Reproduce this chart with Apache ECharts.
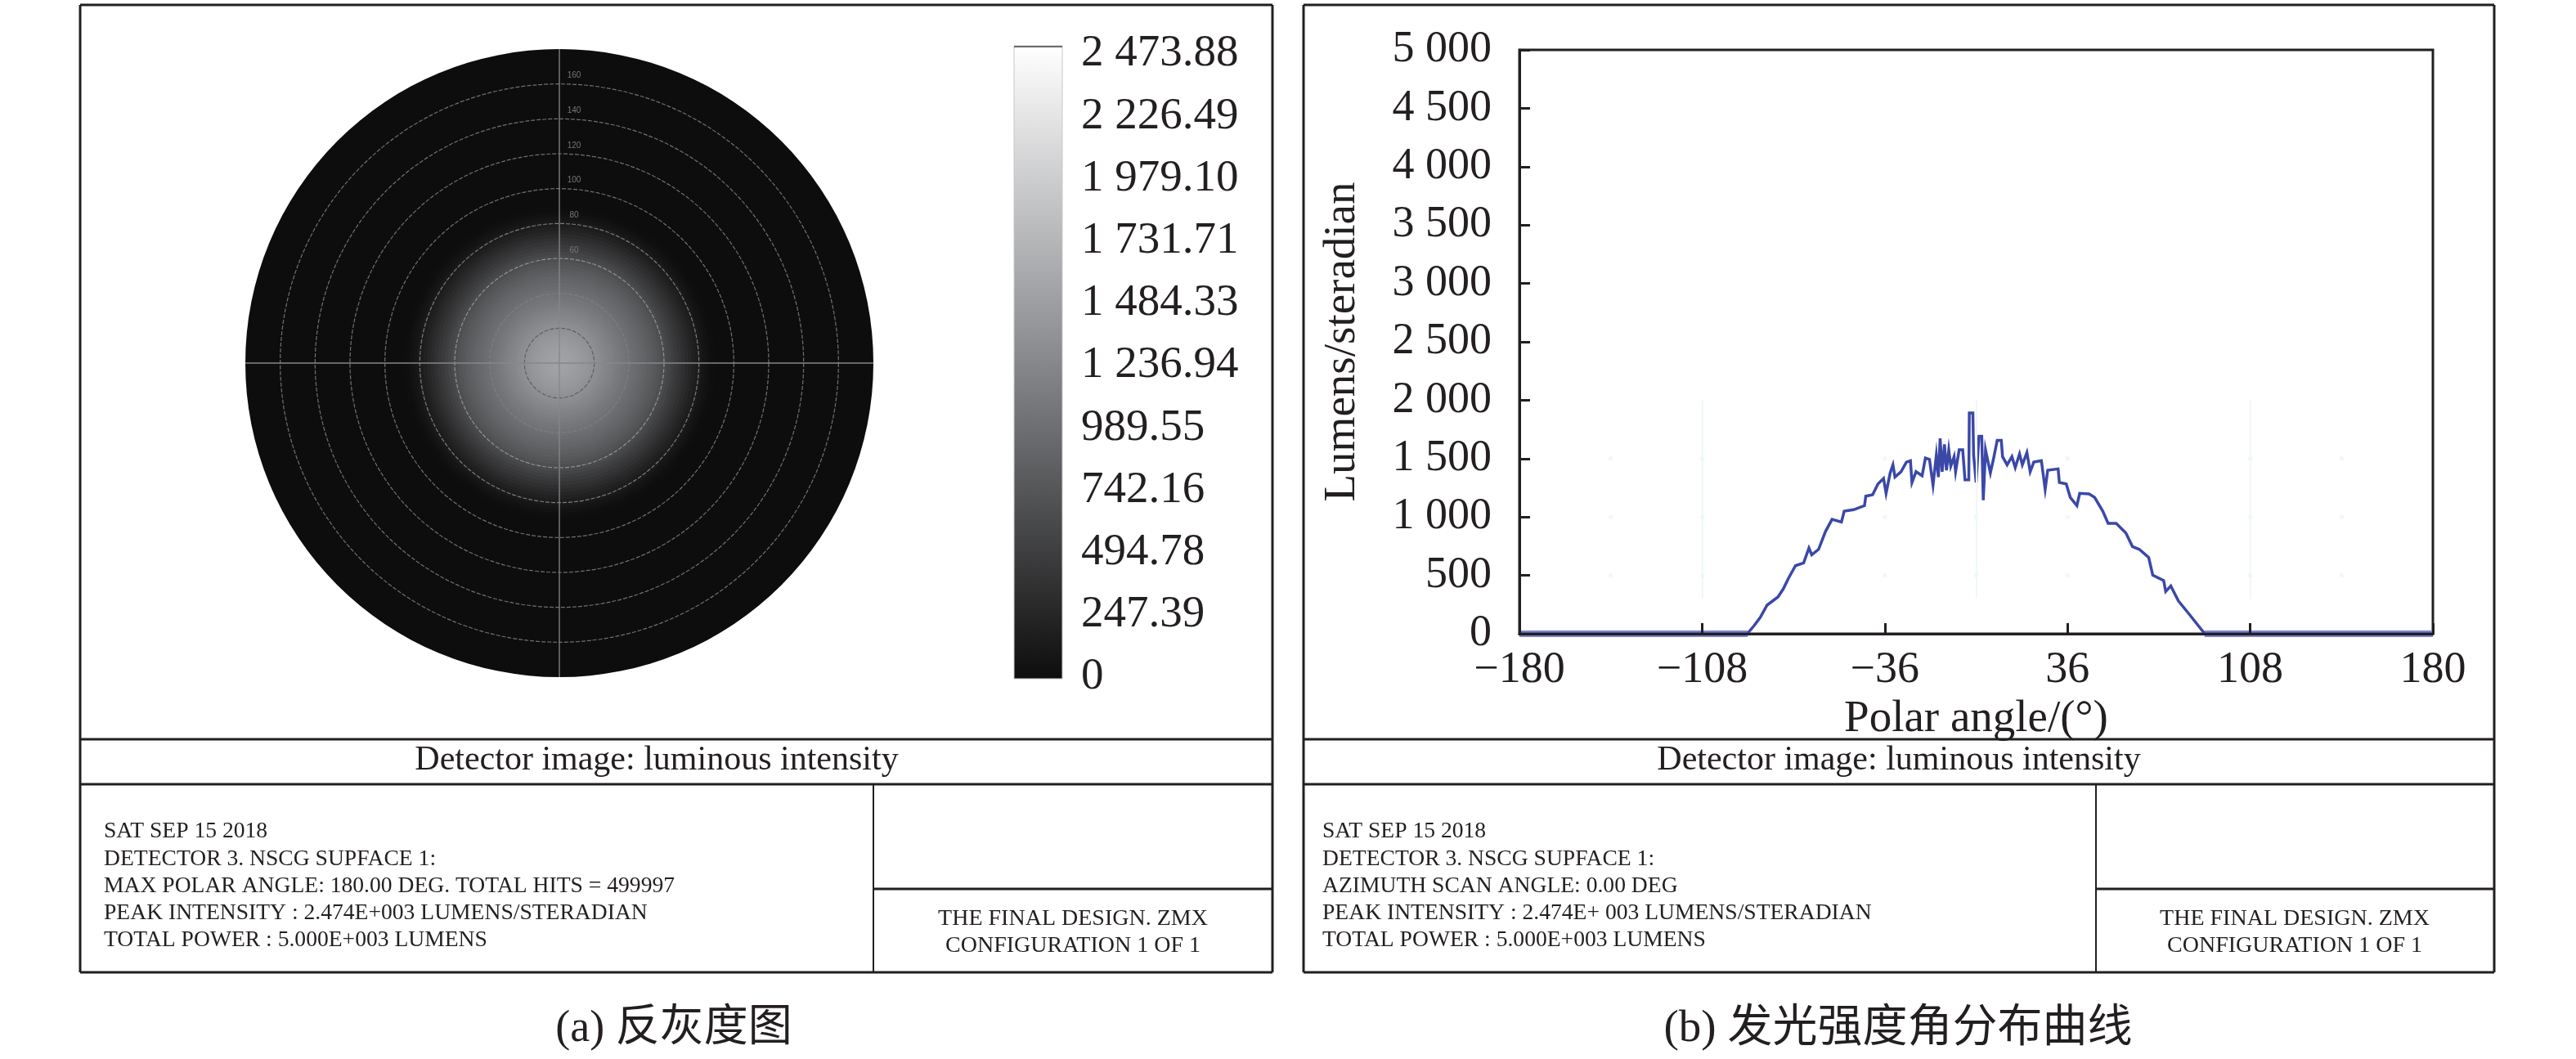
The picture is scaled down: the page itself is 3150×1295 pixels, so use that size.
<!DOCTYPE html>
<html>
<head>
<meta charset="utf-8">
<style>html,body{margin:0;padding:0;background:#fff}#c{width:3150px;height:1295px}</style>
<script src="https://cdn.jsdelivr.net/npm/echarts@6/dist/echarts.min.js"></script>
</head>
<body>
<div id="c"></div>
<script>
// ---------- data ----------
const curveAngle = [-180,-90.2,-87.5,-85.1,-82.4,-78.1,-76.0,-73.9,-71.2,-68.0,-65.9,-64.8,-62.1,-59.4,-56.8,-53.1,-52.0,-48.3,-44.0,-43.5,-40.8,-38.7,-36.5,-35.5,-33.9,-32.8,-32.0,-29.6,-27.5,-25.9,-25.3,-23.7,-21.3,-20.0,-18.4,-17.0,-15.7,-14.9,-14.2,-13.4,-12.5,-11.7,-10.8,-10.0,-8.7,-8.1,-6.7,-5.3,-4.4,-2.9,-2.7,-1.3,-1.0,0,1.1,2.2,2.8,3.7,5.6,6.9,8.3,9.9,10.4,12.2,14.1,15.4,17.1,18.2,20.0,21.3,22.7,25.7,27.2,28.2,32.3,32.8,35.5,37.1,39.7,40.8,44.5,46.7,49.9,52.0,55.2,59.0,61.6,64.3,68.0,69.6,73.9,74.7,76.7,79.7,84.2,90.1,180];
const curveValue = [0,0,70,140,245,315,385,478,583,607,735,677,723,875,980,957,1050,1062,1097,1178,1190,1283,1330,1202,1377,1447,1342,1388,1470,1482,1295,1388,1353,1505,1493,1272,1528,1342,1673,1388,1622,1400,1575,1435,1517,1388,1575,1575,1318,1318,1890,1890,1528,1295,1692,1692,1143,1575,1377,1505,1657,1657,1517,1447,1517,1423,1540,1447,1552,1388,1470,1482,1237,1400,1412,1295,1283,1167,1097,1202,1197,1167,1050,945,945,863,747,723,653,502,455,362,410,281,161,0,0];
const baselineAngle = [-180,-90,90,180];
const baselineValue = [0,0,0,0];
const faintDotAngle = [-144,-108,-36,0,36,108,144];
const faintDotValue = [500,1000,1500];
const faintLineAngle = [-108,0,108];

const xTickValues = [-180,-108,-36,36,108,180];
const yTickLabels = ['0','500','1 000','1 500','2 000','2 500','3 000','3 500','4 000','4 500','5 000'];
const colorbarLabels = ['0','247.39','494.78','742.16','989.55','1 236.94','1 484.33','1 731.71','1 979.10','2 226.49','2 473.88'];
const colorbarColors = ['#ffffff','#87888c','#0d0d0d'];

// radial profile of the detector image: outer edge of each zone (deg), intensity
const radialDeg = [180,90,88,86,84,82,80,78,76,74,72,70,68,66,64,62,60,58,56,54,52,50,48,46,44,42,40,38,36,34,32,30,28,26,24,22,20,18,16,14,12,10,8,6,4,2];
const radialValue = [0,10,25,50,85,120,160,205,250,300,350,405,455,505,560,610,665,710,750,790,825,860,895,925,955,985,1015,1050,1080,1110,1145,1180,1210,1240,1275,1305,1335,1360,1390,1410,1435,1455,1475,1490,1505,1500];
const ringDeg = [160,140,120,100,80,60,40,20];
const ringColor = ['#707070','#707070','#707070','#707070','#7c7c7c','#90929a','#7c7e85','#5d5f64'];
const ringLabel = ['160','140','120','100','80','60'];
const spokeAngle = [0,90,180,270];

const titleText = 'Detector image: luminous intensity';
const infoA = ['SAT SEP 15 2018','DETECTOR 3. NSCG SUPFACE 1:','MAX POLAR ANGLE: 180.00 DEG. TOTAL HITS = 499997','PEAK INTENSITY : 2.474E+003 LUMENS/STERADIAN','TOTAL POWER : 5.000E+003 LUMENS'];
const infoB = ['SAT SEP 15 2018','DETECTOR 3. NSCG SUPFACE 1:','AZIMUTH SCAN ANGLE: 0.00 DEG','PEAK INTENSITY : 2.474E+ 003 LUMENS/STERADIAN','TOTAL POWER : 5.000E+003 LUMENS'];
const fileLines = ['THE FINAL DESIGN. ZMX','CONFIGURATION 1 OF 1'];
const captionA = '(a) 反灰度图';
const captionB = '(b) 发光强度角分布曲线';

// ---------- helpers ----------
const FONT = '"Liberation Serif","Noto Sans CJK SC",serif';
const INK = '#231f20';
const chart = echarts.init(document.getElementById('c'), null, {renderer:'canvas'});

function seg(x1,y1,x2,y2,w){
  return {type:'line',shape:{x1,y1,x2,y2},style:{stroke:INK,lineWidth:w},silent:true,z:20};
}
function txt(text,x,y,size,align){
  return {type:'text',x,y,silent:true,z:20,style:{text,fontFamily:FONT,fontSize:size,fill:INK,textAlign:align||'center',textVerticalAlign:'middle'}};
}
function panel(L,R,V,titleX,lines,textX,fileX){
  const out = [
    seg(L,6,R,6,3),seg(L,1189,R,1189,3),seg(L,6,L,1189,3),seg(R,6,R,1189,3),
    seg(L,904,R,904,3),seg(L,959,R,959,3),seg(V,959,V,1189,2),seg(V,1087,R,1087,3),
    txt(titleText,titleX,930,42)
  ];
  lines.forEach((t,i)=>out.push(txt(t,textX,[1017,1051,1084,1117,1150][i],27.6,'left')));
  fileLines.forEach((t,i)=>out.push(txt(t,fileX,[1124,1157][i],28)));
  return out;
}

const graphic = [].concat(
  panel(98,1556,1068,803,infoA,127,1312),
  panel(1594,3050,2563,2322,infoB,1617,2806),
  [txt(captionA,824,1259,54),txt(captionB,2321,1259,55),
   {type:'rect',shape:{x:1240,y:56,width:59,height:774},silent:true,z:19,
    style:{fill:new echarts.graphic.LinearGradient(0,0,0,1,colorbarColors.map((c,i)=>({offset:i/(colorbarColors.length-1),color:c})))}},
   {type:'rect',shape:{x:1240,y:56,width:59,height:774},silent:true,z:20,style:{fill:'none',stroke:'#c8c8c8',lineWidth:1}},
   {type:'line',shape:{x1:1240,y1:57,x2:1299,y2:57},silent:true,z:20,style:{stroke:'#6a6a6a',lineWidth:2}}]
);

const option = {
  backgroundColor:'#fff',
  animation:false,
  textStyle:{fontFamily:FONT},
  graphic,
  polar:{center:[684,444],radius:384},
  angleAxis:{type:'value',min:0,max:360,show:false},
  radiusAxis:{type:'value',min:0,max:180,show:false},
  grid:[
    {left:1858,top:61,width:1117,height:714,show:true,borderColor:INK,borderWidth:3,containLabel:false},
    {left:1302,top:66,width:10,height:762,show:false}
  ],
  xAxis:[
    {type:'value',gridIndex:0,min:-180,max:180,z:5,
     name:'Polar angle/(°)',nameLocation:'middle',nameGap:67,nameTextStyle:{fontFamily:FONT,fontSize:55,color:INK},
     axisLine:{show:true,onZero:false,lineStyle:{color:INK,width:3}},
     axisTick:{show:true,inside:true,length:13,lineStyle:{color:INK,width:3},customValues:xTickValues},
     axisLabel:{show:true,margin:18,fontFamily:FONT,fontSize:54,color:INK,customValues:xTickValues,hideOverlap:false,
       showMinLabel:true,showMaxLabel:true,
       formatter:v=>String(v).replace('-','−')},
     splitLine:{show:false}},
    {type:'value',gridIndex:1,show:false,min:0,max:1}
  ],
  yAxis:[
    {type:'value',gridIndex:0,min:0,max:5000,interval:500,z:5,
     name:'Lumens/steradian',nameLocation:'middle',nameGap:189,nameRotate:90,nameTextStyle:{fontFamily:FONT,fontSize:55,color:INK},
     axisLine:{show:true,onZero:false,lineStyle:{color:INK,width:3}},
     axisTick:{show:true,inside:true,length:13,lineStyle:{color:INK,width:3}},
     axisLabel:{show:true,margin:34,padding:[8,0,0,0],fontFamily:FONT,fontSize:54,color:INK,formatter:v=>yTickLabels[Math.round(v/500)]},
     splitLine:{show:false}},
    {type:'category',gridIndex:1,data:colorbarLabels,boundaryGap:false,position:'right',offset:0,
     axisLine:{show:false},axisTick:{show:false},
     axisLabel:{show:true,interval:0,margin:10,align:'left',fontFamily:FONT,fontSize:55,color:INK},
     splitLine:{show:false}}
  ],
  visualMap:{
    type:'continuous',show:false,seriesIndex:0,dimension:2,min:0,max:2473.88,
    inRange:{color:colorbarColors.slice().reverse()}
  },
  series:[
    {type:'custom',coordinateSystem:'polar',silent:true,z:2,
     data:radialDeg.map((d,i)=>[d,0,radialValue[i]]),
     encode:{radius:0,angle:1},
     renderItem(params,api){
       const c=params.coordSys, p=api.coord([api.value(0),0]);
       return {type:'circle',shape:{cx:c.cx,cy:c.cy,r:Math.hypot(p[0]-c.cx,p[1]-c.cy)},style:{fill:api.visual('color')}};
     }},
    {type:'custom',coordinateSystem:'polar',silent:true,z:3,
     data:ringDeg.map((d,i)=>[d,0,i]),
     encode:{radius:0,angle:1},
     renderItem(params,api){
       const c=params.coordSys, p=api.coord([api.value(0),api.value(1)]), i=api.value(2);
       const r=Math.hypot(p[0]-c.cx,p[1]-c.cy);
       const kids=[{type:'circle',shape:{cx:c.cx,cy:c.cy,r},style:{fill:'none',stroke:ringColor[i],lineWidth:1.2,lineDash:[5,2]}}];
       if(ringLabel[i]) kids.push({type:'text',x:c.cx+18,y:p[1]-10,style:{text:ringLabel[i],fontFamily:'"Liberation Sans"',fontSize:10,fill:'#77787c',textAlign:'center',textVerticalAlign:'middle'}});
       return {type:'group',children:kids};
     }},
    {type:'custom',coordinateSystem:'polar',silent:true,z:4,
     data:spokeAngle.map(a=>[180,a]),
     encode:{radius:0,angle:1},
     renderItem(params,api){
       const c=params.coordSys, p=api.coord([api.value(0),api.value(1)]);
       return {type:'line',shape:{x1:c.cx,y1:c.cy,x2:p[0],y2:p[1]},style:{stroke:'#85878b',lineWidth:1.3}};
     }},
    {type:'scatter',xAxisIndex:0,yAxisIndex:0,silent:true,z:1,symbol:'rect',symbolSize:5,
     itemStyle:{color:'#eef6f9'},
     data:faintDotAngle.flatMap(a=>faintDotValue.map(v=>[a,v])),
     markLine:{silent:true,symbol:'none',label:{show:false},animation:false,
       lineStyle:{color:'#f0f7fa',width:2,type:'solid'},
       data:faintLineAngle.map(a=>[{coord:[a,300]},{coord:[a,2000]}])}},
    {type:'line',xAxisIndex:0,yAxisIndex:0,silent:true,z:2,showSymbol:false,symbol:'none',clip:false,
     lineStyle:{color:'#7d86c6',width:8,cap:'butt'},
     data:baselineAngle.map((a,i)=>[a,baselineValue[i]]).slice(0,2)},
    {type:'line',xAxisIndex:0,yAxisIndex:0,silent:true,z:2,showSymbol:false,symbol:'none',clip:false,
     lineStyle:{color:'#7d86c6',width:8,cap:'butt'},
     data:baselineAngle.map((a,i)=>[a,baselineValue[i]]).slice(2)},
    {type:'line',xAxisIndex:0,yAxisIndex:0,silent:true,z:3,showSymbol:false,symbol:'none',smooth:false,clip:false,
     lineStyle:{color:'#3a48a8',width:3.5,join:'miter'},
     data:curveAngle.map((a,i)=>[a,curveValue[i]])}
  ]
};
chart.setOption(option);
</script>
</body>
</html>
